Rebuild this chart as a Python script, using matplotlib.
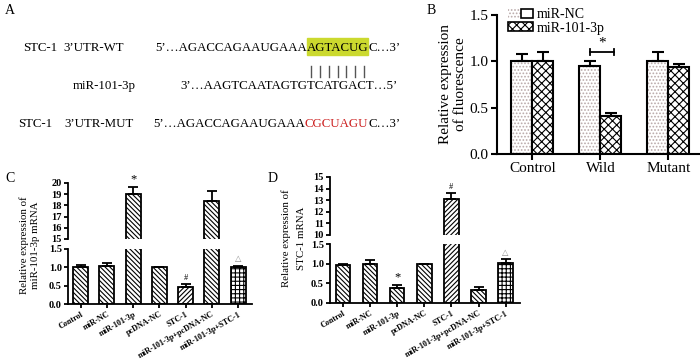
import matplotlib
matplotlib.use('Agg')
import matplotlib.pyplot as plt
from matplotlib.patches import Patch, Rectangle
from matplotlib.legend_handler import HandlerTuple
import numpy as np

plt.rcParams['font.family'] = ['Liberation Serif', 'DejaVu Sans']
plt.rcParams['hatch.linewidth'] = 0.8

# ---- data ----
b_groups = ['Control', 'Wild', 'Mutant']
b_nc = [1.00, 0.955, 1.00]
b_nc_err = [0.08, 0.045, 0.10]
b_mir = [1.00, 0.41, 0.94]
b_mir_err = [0.10, 0.03, 0.03]

groups = ['Control', 'miR-NC', 'miR-101-3p', 'pcDNA-NC', 'STC-1',
          'miR-101-3p+pcDNA-NC', 'miR-101-3p+STC-1']
c_vals = [1.00, 1.04, 19.0, 1.00, 0.47, 18.35, 1.00]
c_err = [0.06, 0.09, 0.6, 0.02, 0.08, 0.9, 0.05]
d_vals = [0.97, 0.99, 0.39, 0.98, 13.1, 0.33, 1.01]
d_err = [0.02, 0.11, 0.06, 0.02, 0.55, 0.07, 0.10]
marks = {2: '*', 4: '#', 6: '\u25b3'}

W, H = 700, 361
fig = plt.figure(figsize=(7, 3.61), dpi=100)

# ---- panel A (pixel coordinates) ----
axA = fig.add_axes([0, 0, 1, 1])
axA.set_xlim(0, W)
axA.set_ylim(H, 0)
axA.axis('off')
fig.canvas.draw()
rend = fig.canvas.get_renderer()
fs = 9.3


def chain(x, y, parts):
    boxes = []
    for s, col in parts:
        t = axA.text(x, y, s, color=col, fontsize=fs, va='center', ha='left')
        bb = t.get_window_extent(rend)
        boxes.append((bb.x0, bb.x1))
        x = bb.x1
    return boxes


axA.text(5, 10, 'A', fontsize=10, va='center')
axA.text(23, 48, 'STC-1', fontsize=fs, va='center')
axA.text(63, 48, '3\u2019UTR-WT', fontsize=fs, va='center')
bx = chain(155, 48, [('5\u2019\u2026AGACCAGAAUGAAA', 'black'), ('AGTACUG', 'black'),
                     ('C\u20263\u2019', 'black')])
x0, x1 = bx[1]
axA.add_patch(Rectangle((x0, 38), x1 - x0, 17, color='#cbd92e', zorder=0))
w = (x1 - x0) / 7
for k in range(7):
    xx = x0 + w * (k + 0.5)
    axA.plot([xx, xx], [66, 77], color='#555555', lw=1)
axA.text(73, 86, 'miR-101-3p', fontsize=fs, va='center')
chain(180, 86, [('3\u2019\u2026AAGTCAATAGTGTCATGACT\u20265\u2019', 'black')])
axA.text(18, 124, 'STC-1', fontsize=fs, va='center')
axA.text(64, 124, '3\u2019UTR-MUT', fontsize=fs, va='center')
chain(153, 124, [('5\u2019\u2026AGACCAGAAUGAAA', 'black'), ('CGCUAGU', '#cc1f1f'),
                 ('C\u20263\u2019', 'black')])
axA.text(427, 10, 'B', fontsize=10, va='center')
axA.text(5, 178, 'C', fontsize=10, va='center')
axA.text(268, 178, 'D', fontsize=10, va='center')


def rect(l, t, r, b):
    return [l / W, 1 - b / H, (r - l) / W, (b - t) / H]


# ---- panel B ----
axB = fig.add_axes(rect(497, 15, 699, 154))
x = np.arange(len(b_groups))
bw = 0.31
axB.bar(x - bw / 2, b_nc, bw, color='white', edgecolor='#b9a9a9', hatch='.....', lw=0)
axB.bar(x - bw / 2, b_nc, bw, color='none', edgecolor='black', lw=1.5)
axB.bar(x + bw / 2, b_mir, bw, color='white', edgecolor='black', hatch='xxxx', lw=1.5)
axB.errorbar(x - bw / 2, b_nc, yerr=[[0] * 3, b_nc_err], fmt='none', ecolor='black',
             capsize=4, elinewidth=1.5, capthick=1.5)
axB.errorbar(x + bw / 2, b_mir, yerr=[[0] * 3, b_mir_err], fmt='none', ecolor='black',
             capsize=4, elinewidth=1.5, capthick=1.5)
axB.plot([1 - bw / 2, 1 + bw / 2 + 0.05], [1.10, 1.10], color='black', lw=1.3)
for xx in [1 - bw / 2, 1 + bw / 2 + 0.05]:
    axB.plot([xx, xx], [1.07, 1.13], color='black', lw=1.3)
axB.text(1.02, 1.13, '*', ha='center', va='bottom', fontsize=11)
axB.set_xlim(-0.52, 2.45)
axB.set_ylim(0, 1.5)
axB.set_yticks([0, 0.5, 1.0, 1.5])
axB.set_yticklabels(['0.0', '0.5', '1.0', '1.5'], fontsize=11)
axB.set_xticks(x)
axB.set_xticklabels(b_groups, fontsize=11)
for s in ['top', 'right']:
    axB.spines[s].set_visible(False)
for s in ['left', 'bottom']:
    axB.spines[s].set_linewidth(1.5)
axB.tick_params(width=1.5, length=4, pad=2)
axB.set_ylabel('Relative expression\nof fluorescence', fontsize=11, labelpad=2)
h1 = (Patch(facecolor='white', edgecolor='#b9a9a9', hatch='.....', lw=0),
      Patch(facecolor='none', edgecolor='black', lw=1.2))
h2 = Patch(facecolor='white', edgecolor='black', hatch='xxxx', lw=1.2)
axB.legend([h1, h2], ['miR-NC', 'miR-101-3p'], handler_map={tuple: HandlerTuple(ndivide=None, pad=0)},
           loc='upper left', bbox_to_anchor=(508 / W, 1 - 8 / H), bbox_transform=fig.transFigure,
           frameon=False, fontsize=10, handlelength=1.8, handleheight=0.6, handletextpad=0.3,
           labelspacing=0.05, borderpad=0, borderaxespad=0)


# ---- panels C and D (broken axes) ----
def broken(box_top, box_bot, vals, errs, top_lim, top_ticks, bot_lim, bw):
    axT = fig.add_axes(rect(*box_top))
    axL = fig.add_axes(rect(*box_bot))
    xs = np.arange(len(vals))
    hs = ['\\' * 7] * len(vals)
    hs[4] = '/' * 7
    hs[6] = '++++'
    for ax in (axT, axL):
        for i in range(len(vals)):
            ax.bar(xs[i], vals[i], bw, color='white', edgecolor='black', hatch=hs[i], lw=1.3)
        ax.errorbar(xs, vals, yerr=[[0] * len(vals), errs], fmt='none', ecolor='black',
                    capsize=3.5, elinewidth=1.3, capthick=1.3)
        ax.set_xlim(-0.48, len(vals) - 0.47)
        for s in ['top', 'right']:
            ax.spines[s].set_visible(False)
        for s in ['left', 'bottom']:
            ax.spines[s].set_linewidth(1.3)
        ax.tick_params(width=1.3, length=3, pad=1.5)
    axT.set_ylim(*top_lim)
    axT.set_yticks(top_ticks)
    axT.set_yticklabels([str(t) for t in top_ticks], fontsize=7.5, fontweight='bold')
    axT.spines['bottom'].set_visible(False)
    axT.set_xticks([])
    axL.set_ylim(*bot_lim)
    axL.set_yticks([0, 0.5, 1.0, 1.5])
    axL.set_yticklabels(['0.0', '0.5', '1.0', '1.5'], fontsize=7.5, fontweight='bold')
    axL.set_xticks(xs)
    axL.set_xticklabels(groups, rotation=30, ha='right', rotation_mode='anchor',
                        fontsize=5.9, fontweight='bold')
    for i, m in marks.items():
        top = vals[i] + errs[i]
        ax = axT if vals[i] > bot_lim[1] else axL
        col = '#888888' if m == '\u25b3' else 'black'
        size = 9 if m == '*' else 6
        ax.annotate(m, (xs[i], top), xytext=(0, 1.5), textcoords='offset points',
                    ha='center', va='bottom', fontsize=size, color=col)
    return axT, axL


broken((68, 183, 252, 239), (68, 249, 252, 304), c_vals, c_err,
       (15, 20), [15, 16, 17, 18, 19, 20], (0, 1.5), 0.57)
broken((330, 177, 520, 235), (330, 244, 520, 303), d_vals, d_err,
       (10, 15), [10, 11, 12, 13, 14, 15], (0, 1.5), 0.53)

fig.text(24 / W, 1 - 245 / H, 'Relative expression of', rotation=90, ha='center', va='center', fontsize=7.8)
fig.text(36 / W, 1 - 245 / H, 'miR-101-3p mRNA', rotation=90, ha='center', va='center', fontsize=7.8)
fig.text(286 / W, 1 - 238 / H, 'Relative expression of', rotation=90, ha='center', va='center', fontsize=7.8)
fig.text(302 / W, 1 - 238 / H, 'STC-1 mRNA', rotation=90, ha='center', va='center', fontsize=7.8)

fig.savefig('out.png', dpi=100)
